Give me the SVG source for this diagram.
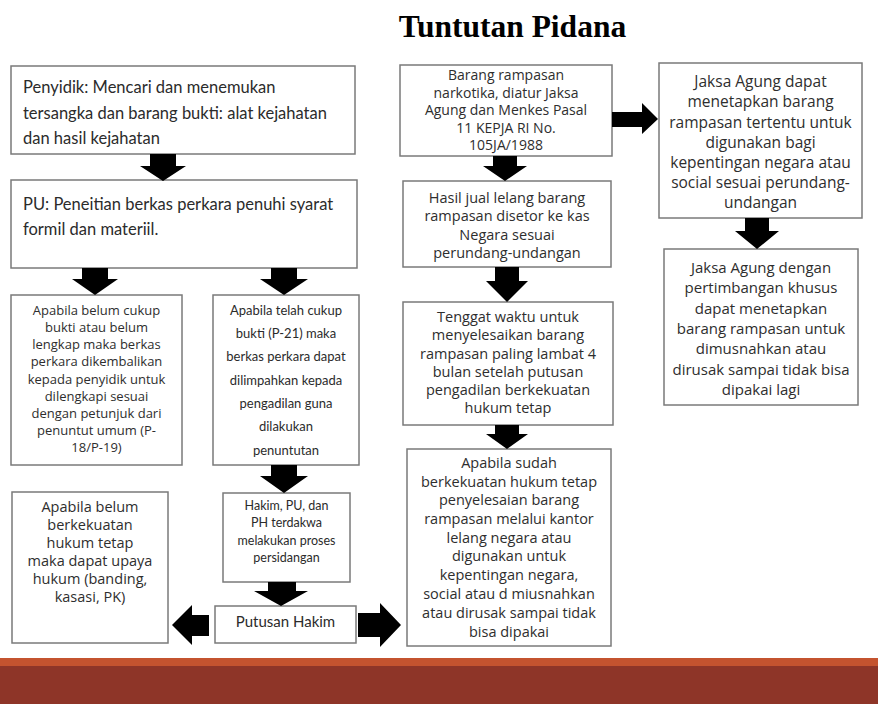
<svg xmlns="http://www.w3.org/2000/svg" width="878" height="704" viewBox="0 0 878 704">
<style>
.box{fill:#fff;stroke:#7a7a7a;stroke-width:1.5}
.t{font-family:"Open Sans","Liberation Sans",sans-serif;fill:#2e2e2e;text-anchor:middle}
.tc{font-family:Lato,"Open Sans","Liberation Sans",sans-serif;fill:#2b2b2b;text-anchor:middle}
.tl{font-family:Lato,"Open Sans","Liberation Sans",sans-serif;fill:#2b2b2b;font-size:16.5px}
.arr{fill:#000}
.title{font-family:"Liberation Serif","Times New Roman",serif;font-weight:bold;font-size:31.5px;fill:#000;text-anchor:middle}
</style>
<rect width="878" height="704" fill="#fff"/>
<text class="title" x="512.5" y="37">Tuntutan Pidana</text>

<g id="n1"><rect class="box" x="11" y="66" width="344" height="88"/>
<text class="tl"><tspan x="23" y="93">Penyidik: Mencari dan menemukan</tspan><tspan x="23" y="119">tersangka dan barang bukti: alat kejahatan</tspan><tspan x="23" y="144">dan hasil kejahatan</tspan></text></g>

<g id="n2"><rect class="box" x="11" y="180" width="346" height="88"/>
<text class="tl"><tspan x="23" y="210">PU: Peneitian berkas perkara penuhi syarat</tspan><tspan x="23" y="235">formil dan materiil.</tspan></text></g>

<g id="n3"><rect class="box" x="11" y="295" width="171" height="170"/>
<text class="t" style="font-size:13px"><tspan x="96.5" y="315">Apabila belum cukup</tspan><tspan x="96.5" y="332">bukti atau belum</tspan><tspan x="96.5" y="349">lengkap maka berkas</tspan><tspan x="96.5" y="366">perkara dikembalikan</tspan><tspan x="96.5" y="384">kepada penyidik untuk</tspan><tspan x="96.5" y="401">dilengkapi sesuai</tspan><tspan x="96.5" y="418">dengan petunjuk dari</tspan><tspan x="96.5" y="435">penuntut umum (P-</tspan><tspan x="96.5" y="452">18/P-19)</tspan></text></g>

<g id="n4"><rect class="box" x="213" y="295" width="146" height="170"/>
<text class="tc" style="font-size:13px"><tspan x="286" y="315">Apabila telah cukup</tspan><tspan x="286" y="338">bukti (P-21) maka</tspan><tspan x="286" y="361">berkas perkara dapat</tspan><tspan x="286" y="385">dilimpahkan kepada</tspan><tspan x="286" y="408">pengadilan guna</tspan><tspan x="286" y="431">dilakukan</tspan><tspan x="286" y="455">penuntutan</tspan></text></g>

<g id="n5"><rect class="box" x="12" y="492" width="156" height="151"/>
<text class="t" style="font-size:14.5px"><tspan x="90" y="512">Apabila belum</tspan><tspan x="90" y="530">berkekuatan</tspan><tspan x="90" y="548">hukum tetap</tspan><tspan x="90" y="566">maka dapat upaya</tspan><tspan x="90" y="584">hukum (banding,</tspan><tspan x="90" y="602">kasasi, PK)</tspan></text></g>

<g id="n6"><rect class="box" x="223" y="493" width="127" height="89"/>
<text class="tc" style="font-size:12.5px"><tspan x="286.5" y="510">Hakim, PU, dan</tspan><tspan x="286.5" y="527">PH terdakwa</tspan><tspan x="286.5" y="545">melakukan proses</tspan><tspan x="286.5" y="562">persidangan</tspan></text></g>

<g id="n7"><rect class="box" x="215" y="606" width="141" height="37"/>
<text class="tc" style="font-size:15px" x="285.5" y="627">Putusan Hakim</text></g>

<g id="n8"><rect class="box" x="400" y="65" width="212" height="91"/>
<text class="t" style="font-size:14px"><tspan x="506" y="80">Barang rampasan</tspan><tspan x="506" y="97.5">narkotika, diatur Jaksa</tspan><tspan x="506" y="115">Agung dan Menkes Pasal</tspan><tspan x="506" y="132.5">11 KEPJA RI No.</tspan><tspan x="506" y="150">105JA/1988</tspan></text></g>

<g id="n9"><rect class="box" x="403" y="181" width="208" height="86"/>
<text class="t" style="font-size:14.5px"><tspan x="507" y="203">Hasil jual lelang barang</tspan><tspan x="507" y="221">rampasan disetor ke kas</tspan><tspan x="507" y="240">Negara sesuai</tspan><tspan x="507" y="258">perundang-undangan</tspan></text></g>

<g id="n10"><rect class="box" x="403" y="302" width="210" height="123"/>
<text class="t" style="font-size:14.5px"><tspan x="508" y="322">Tenggat waktu untuk</tspan><tspan x="508" y="340">menyelesaikan barang</tspan><tspan x="508" y="359">rampasan paling lambat 4</tspan><tspan x="508" y="377">bulan setelah putusan</tspan><tspan x="508" y="395">pengadilan berkekuatan</tspan><tspan x="508" y="413">hukum tetap</tspan></text></g>

<g id="n11"><rect class="box" x="407" y="449" width="204" height="197"/>
<text class="t" style="font-size:14.5px"><tspan x="509" y="468">Apabila sudah</tspan><tspan x="509" y="487">berkekuatan hukum tetap</tspan><tspan x="509" y="505">penyelesaian barang</tspan><tspan x="509" y="524">rampasan melalui kantor</tspan><tspan x="509" y="543">lelang negara atau</tspan><tspan x="509" y="561">digunakan untuk</tspan><tspan x="509" y="580">kepentingan negara,</tspan><tspan x="509" y="599">social atau d miusnahkan</tspan><tspan x="509" y="618">atau dirusak sampai tidak</tspan><tspan x="509" y="637">bisa dipakai</tspan></text></g>

<g id="n12"><rect class="box" x="659" y="63" width="203" height="155"/>
<text class="t" style="font-size:15.5px"><tspan x="760.5" y="87">Jaksa Agung dapat</tspan><tspan x="760.5" y="107">menetapkan barang</tspan><tspan x="760.5" y="127.5">rampasan tertentu untuk</tspan><tspan x="760.5" y="147.5">digunakan bagi</tspan><tspan x="760.5" y="168">kepentingan negara atau</tspan><tspan x="760.5" y="188">social sesuai perundang-</tspan><tspan x="760.5" y="208">undangan</tspan></text></g>

<g id="n13"><rect class="box" x="664" y="249" width="194" height="156"/>
<text class="t" style="font-size:15px"><tspan x="761" y="273">Jaksa Agung dengan</tspan><tspan x="761" y="293">pertimbangan khusus</tspan><tspan x="761" y="314">dapat menetapkan</tspan><tspan x="761" y="334">barang rampasan untuk</tspan><tspan x="761" y="354">dimusnahkan atau</tspan><tspan x="761" y="375">dirusak sampai tidak bisa</tspan><tspan x="761" y="395">dipakai lagi</tspan></text></g>

<g id="connectors">
<path class="arr" d="M150,154H176V166H186L163,181L140,166H150Z"/>
<path class="arr" d="M82,268H108V279H118L95,295L72,279H82Z"/>
<path class="arr" d="M271,268H297V279H308L284,295L260,279H271Z"/>
<path class="arr" d="M271,465H297V476H308L284,493L260,476H271Z"/>
<path class="arr" d="M268,582H296V591H308L281,606L254,591H268Z"/>
<path class="arr" d="M493,156H517V166H527L505,181L483,166H493Z"/>
<path class="arr" d="M495,267H519V281H528L507,302L486,281H495Z"/>
<path class="arr" d="M495,425H519V434H528L507,449L486,434H495Z"/>
<path class="arr" d="M745,218H769V231H779L757,249L735,231H745Z"/>
<path class="arr" d="M612,112V127H642V134L658,119L642,103V112Z"/>
<path class="arr" d="M209,615V636H192V645L172,625L192,605V615Z"/>
<path class="arr" d="M358,613V637H380V647L401,625L380,603V613Z"/>
</g>

<rect x="0" y="658" width="878" height="8" fill="#C4532F"/>
<rect x="0" y="666" width="878" height="38" fill="#8E3528"/>
</svg>
